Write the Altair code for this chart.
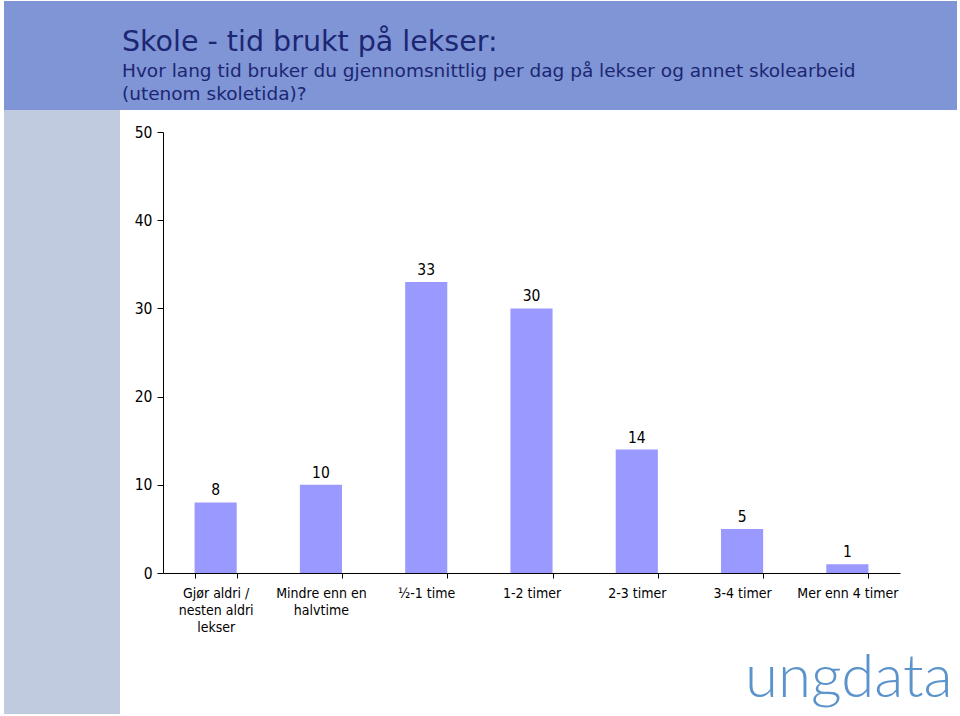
import altair as alt
import pandas as pd

categories = ["Gjør aldri / nesten aldri lekser", "Mindre enn en halvtime", "½-1 time",
              "1-2 timer", "2-3 timer", "3-4 timer", "Mer enn 4 timer"]
values = [8, 10, 33, 30, 14, 5, 1]
title_text = "Skole - tid brukt på lekser:"
subtitle_lines = ["Hvor lang tid bruker du gjennomsnittlig per dag på lekser og annet skolearbeid",
                  "(utenom skoletida)?"]
logo_text = "ungdata"
y_ticks = [0, 10, 20, 30, 40, 50]

df = pd.DataFrame({"cat": categories, "val": values})
one = pd.DataFrame({"a": [0]})

FONT = "DejaVu Sans Condensed"
HEAD = "#7F95D5"
SIDE = "#C0CBDF"
NAVY = "#1C2673"

header = alt.Chart(one).mark_rect(color=HEAD).encode(
    x=alt.value(-159), x2=alt.value(794), y=alt.value(-131), y2=alt.value(-22))
sidebar = alt.Chart(one).mark_rect(color=SIDE).encode(
    x=alt.value(-159), x2=alt.value(-43), y=alt.value(-22), y2=alt.value(582))

title = alt.Chart(pd.DataFrame({"t": [title_text]})).mark_text(
    align="left", baseline="alphabetic", font="DejaVu Sans", fontSize=28.5, color=NAVY
).encode(x=alt.value(-41), y=alt.value(-81), text="t")
sub1 = alt.Chart(pd.DataFrame({"t": [subtitle_lines[0]]})).mark_text(
    align="left", baseline="alphabetic", font="DejaVu Sans", fontSize=18.5, color=NAVY
).encode(x=alt.value(-41), y=alt.value(-55), text="t")
sub2 = alt.Chart(pd.DataFrame({"t": [subtitle_lines[1]]})).mark_text(
    align="left", baseline="alphabetic", font="DejaVu Sans", fontSize=18.5, color=NAVY
).encode(x=alt.value(-41), y=alt.value(-32), text="t")
logo = alt.Chart(pd.DataFrame({"t": [logo_text]})).mark_text(
    align="left", baseline="alphabetic", font="Lato", fontWeight=300, fontSize=60, color="#5B93CB"
).encode(x=alt.value(582), y=alt.value(565), text="t")

label_expr = ("datum.value == 'Gjør aldri / nesten aldri lekser' ? ['Gjør aldri /', 'nesten aldri', 'lekser'] : "
              "datum.value == 'Mindre enn en halvtime' ? ['Mindre enn en', 'halvtime'] : datum.value")

x = alt.X("cat:N", sort=categories, title=None,
          scale=alt.Scale(paddingInner=0.6, paddingOuter=0.3),
          axis=alt.Axis(labelAngle=0, labelExpr=label_expr, tickBand="extent",
                        labelFont=FONT, labelFontSize=14, labelColor="#000000",
                        labelPadding=8, labelLineHeight=17, tickSize=5,
                        domainColor="#000000", tickColor="#000000", labelBaseline="top"))
y = alt.Y("val:Q", title=None,
          scale=alt.Scale(domain=[0, 50], nice=False),
          axis=alt.Axis(values=y_ticks, grid=False, labelFont=FONT, labelFontSize=15.5,
                        labelColor="#000000", tickSize=6, labelPadding=5,
                        domainColor="#000000", tickColor="#000000"))

bars = alt.Chart(df).mark_bar(color="#9999FF").encode(x=x, y=y)
labels = alt.Chart(df).mark_text(baseline="alphabetic", dy=-7, font=FONT, fontSize=15.5,
                                 color="#000000").encode(
    x=alt.X("cat:N", sort=categories), y="val:Q", text="val:Q")

chart = alt.layer(header, sidebar, title, sub1, sub2, logo, bars, labels).properties(
    width=737, height=441,
    autosize=alt.AutoSizeParams(type="none"),
    padding={"left": 163, "top": 132, "right": 60, "bottom": 143},
    background="white",
).configure_view(stroke=None)

chart.save("out.html", embed_options={"renderer": "svg", "actions": False})
